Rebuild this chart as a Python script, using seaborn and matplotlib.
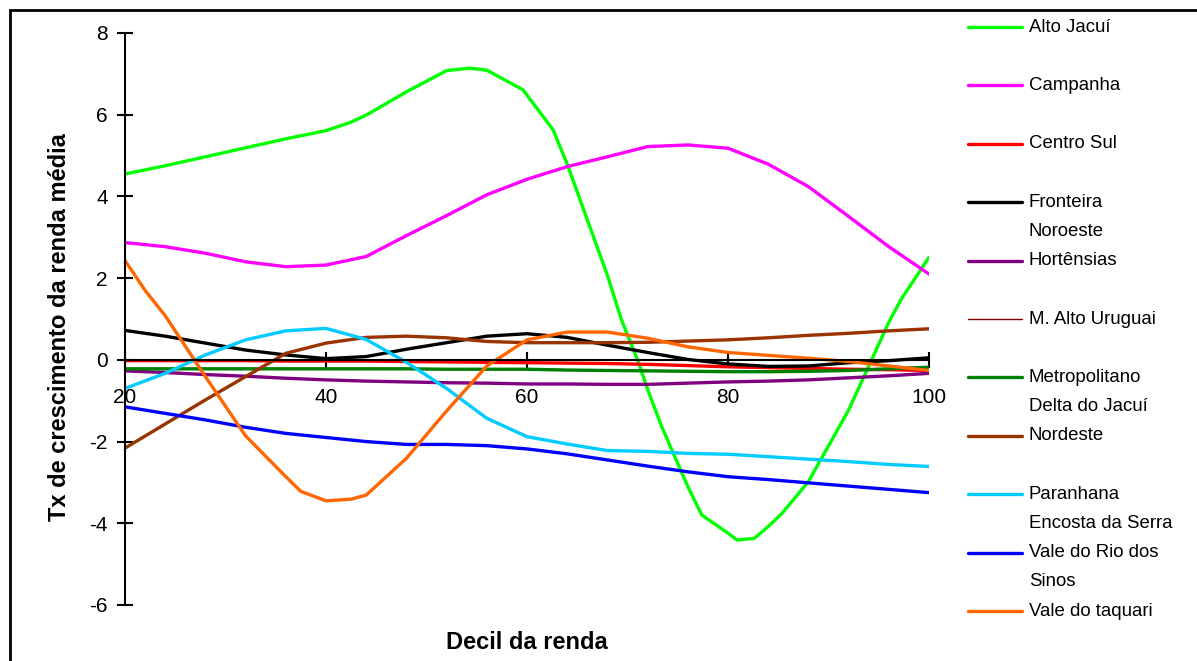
import textwrap
import pandas as pd
import seaborn as sns
import matplotlib.pyplot as plt
from matplotlib.lines import Line2D
from matplotlib.patches import Rectangle

# decis de renda (eixo x) e taxas
decil = [20, 24, 28, 32, 36, 40, 44, 48, 52, 56, 60, 64, 68, 72, 76, 80, 84, 88, 92, 96, 100]
# Alto Jacui e Vale do taquari tem mais pontos lidos por causa dos picos e vales
decil_alto_jacui = [20, 24, 28, 32, 36, 40, 42.4, 44, 48, 52, 54.3, 56, 59.6, 62.6, 64, 68, 69.4, 71,
                    72, 73.4, 76, 77.4, 80, 80.9, 82.6, 84, 85.4, 88, 92, 96, 97.2, 100]
decil_taquari = [20, 22, 24, 28, 32, 36, 37.5, 40, 42.5, 44, 48, 52, 56, 60, 64, 68, 72, 76, 80, 84, 88, 92, 96, 100]

alto_jacui = [4.55, 4.75, 4.97, 5.19, 5.41, 5.61, 5.81, 5.99, 6.56, 7.08, 7.14, 7.09, 6.61, 5.63, 4.79, 2.07,
              0.98, 0.0, -0.72, -1.63, -3.10, -3.80, -4.24, -4.41, -4.37, -4.08, -3.75, -2.98, -1.23, 0.92, 1.47, 2.51]
campanha = [2.87, 2.77, 2.61, 2.40, 2.28, 2.32, 2.53, 3.04, 3.53, 4.04, 4.42, 4.73, 4.97, 5.22, 5.26, 5.18, 4.79, 4.24, 3.51, 2.77, 2.10]
centro_sul = [-0.02, -0.02, -0.02, -0.02, -0.03, -0.03, -0.03, -0.04, -0.05, -0.06, -0.07, -0.08, -0.09, -0.11, -0.14, -0.17, -0.19, -0.21, -0.23, -0.24, -0.26]
fronteira_noroeste = [0.72, 0.58, 0.41, 0.24, 0.12, 0.03, 0.08, 0.26, 0.42, 0.58, 0.64, 0.55, 0.36, 0.18, 0.01, -0.10, -0.16, -0.15, -0.07, -0.02, 0.05]
hortensias = [-0.27, -0.31, -0.36, -0.40, -0.45, -0.49, -0.52, -0.54, -0.56, -0.57, -0.59, -0.59, -0.60, -0.60, -0.57, -0.54, -0.52, -0.49, -0.44, -0.39, -0.33]
m_alto_uruguai = [-0.21, -0.21, -0.21, -0.21, -0.21, -0.21, -0.21, -0.21, -0.22, -0.22, -0.22, -0.24, -0.25, -0.26, -0.27, -0.28, -0.28, -0.27, -0.25, -0.21, -0.17]
metropolitano = [-0.22, -0.22, -0.22, -0.22, -0.22, -0.22, -0.22, -0.22, -0.23, -0.23, -0.23, -0.25, -0.26, -0.27, -0.28, -0.29, -0.29, -0.28, -0.26, -0.22, -0.18]
nordeste = [-2.16, -1.57, -0.98, -0.41, 0.16, 0.41, 0.55, 0.58, 0.54, 0.45, 0.42, 0.42, 0.42, 0.43, 0.46, 0.49, 0.54, 0.60, 0.65, 0.71, 0.76]
paranhana = [-0.70, -0.33, 0.12, 0.49, 0.71, 0.77, 0.50, -0.06, -0.70, -1.43, -1.88, -2.06, -2.22, -2.24, -2.29, -2.31, -2.37, -2.43, -2.49, -2.56, -2.61]
vale_sinos = [-1.15, -1.31, -1.47, -1.65, -1.80, -1.90, -2.00, -2.07, -2.07, -2.10, -2.18, -2.30, -2.45, -2.60, -2.74, -2.86, -2.93, -3.01, -3.09, -3.17, -3.25]
vale_taquari = [2.43, 1.70, 1.08, -0.41, -1.86, -2.86, -3.22, -3.45, -3.41, -3.31, -2.41, -1.25, -0.15, 0.49, 0.68,
                0.68, 0.53, 0.32, 0.18, 0.11, 0.04, -0.04, -0.15, -0.26]

regioes = ["Alto Jacuí", "Campanha", "Centro Sul", "Fronteira Noroeste", "Hortênsias",
           "M. Alto Uruguai", "Metropolitano Delta do Jacuí", "Nordeste",
           "Paranhana Encosta da Serra", "Vale do Rio dos Sinos", "Vale do taquari"]
series = [alto_jacui, campanha, centro_sul, fronteira_noroeste, hortensias, m_alto_uruguai,
          metropolitano, nordeste, paranhana, vale_sinos, vale_taquari]
eixos_x = [decil_alto_jacui] + [decil] * 9 + [decil_taquari]
cores = ["#00FF00", "#FF00FF", "#FF0000", "#000000", "#800080", "#800000",
         "#008000", "#993300", "#00CCFF", "#0000FF", "#FF6600"]

partes = []
for nome, xs, vals in zip(regioes, eixos_x, series):
    partes.append(pd.DataFrame({"regiao": nome, "decil": xs, "taxa": vals}))
df = pd.concat(partes, ignore_index=True)

sns.set_theme(style="white")
plt.rcParams['font.family'] = ['Liberation Sans', 'DejaVu Sans']
plt.rcParams['text.color'] = 'black'
plt.rcParams['axes.labelcolor'] = 'black'
plt.rcParams['axes.unicode_minus'] = False

W, H = 1197, 661
fig = plt.figure(figsize=(W / 100, H / 100), dpi=100)
ax = fig.add_axes([125 / W, 56 / H, 804 / W, 572 / H])

for nome, cor in zip(regioes, cores):
    lw = 1 if nome == "M. Alto Uruguai" else 2.4
    sns.lineplot(data=df[df["regiao"] == nome], x="decil", y="taxa", color=cor, lw=lw, ax=ax)

ax.set_xlim(20, 100)
ax.set_ylim(-6, 8)
ax.set_xticks([20, 40, 60, 80, 100])
ax.set_yticks(range(-6, 9, 2))

for s in ["top", "right"]:
    ax.spines[s].set_visible(False)
ax.spines["bottom"].set_position(("data", 0))
for s in ["left", "bottom"]:
    ax.spines[s].set_color("black")
    ax.spines[s].set_linewidth(1.5)

ax.tick_params(axis="both", direction="inout", length=11, width=1.5, colors="black",
               labelsize=15, bottom=True, left=True)
ax.tick_params(axis="x", pad=15)
ax.tick_params(axis="y", pad=7)

ax.set_xlabel("Decil da renda", fontsize=17, fontweight="bold", va="center")
ax.set_ylabel("Tx de crescimento da renda média", fontsize=17, fontweight="bold", va="center")
ax.xaxis.set_label_coords(0.5, -0.066)
ax.yaxis.set_label_coords(-0.082, 0.486)

# legenda no estilo do Excel, fora do grafico
for i, (nome, cor) in enumerate(zip(regioes, cores)):
    y0 = 1 - (27 + 58.4 * i) / H
    lw = 1 if nome == "M. Alto Uruguai" else 2.4
    fig.add_artist(Line2D([968 / W, 1022 / W], [y0, y0], transform=fig.transFigure, color=cor, lw=lw))
    for k, linha in enumerate(textwrap.fill(nome, 16).split("\n")):
        fig.text(1029 / W, y0 - k * 29 / H, linha, va="center", ha="left", fontsize=13.4)

# moldura da area do grafico
fig.add_artist(Rectangle((10 / W, -0.1), 1.2, 1.1 - 10 / H, transform=fig.transFigure,
                         fill=False, ec="black", lw=2))

fig.savefig("out.png", dpi=100)
